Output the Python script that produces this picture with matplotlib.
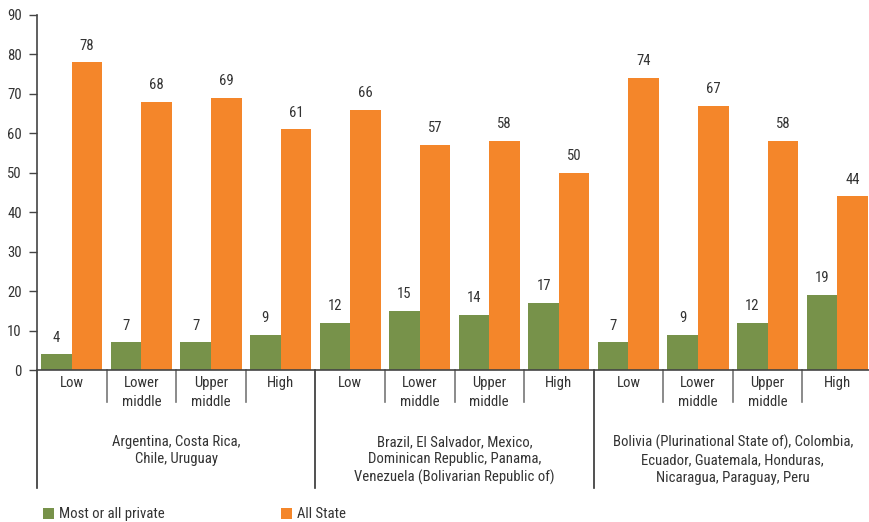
import matplotlib.pyplot as plt
from matplotlib.lines import Line2D
import numpy as np

# data
levels = ['Low', 'Lower\nmiddle', 'Upper\nmiddle', 'High']
groups = ['Argentina, Costa Rica,\nChile, Uruguay',
          'Brazil, El Salvador, Mexico,\nDominican Republic, Panama,\nVenezuela (Bolivarian Republic of)',
          'Bolivia (Plurinational State of), Colombia,\nEcuador, Guatemala, Honduras,\nNicaragua, Paraguay, Peru']
private = [4, 7, 7, 9, 12, 15, 14, 17, 7, 9, 12, 19]
state = [78, 68, 69, 61, 66, 57, 58, 50, 74, 67, 58, 44]

GREEN = '#77924a'
ORANGE = '#f4862a'
TXT = '#333333'
plt.rcParams['font.family'] = ['Roboto Condensed', 'DejaVu Sans']
plt.rcParams['font.size'] = 10.6

fig = plt.figure(figsize=(8.69, 5.22), dpi=100)
ax = fig.add_axes([37 / 869, 1 - 370 / 522, 835 / 869, 355 / 522])

x = np.arange(len(private))
w = 0.44
b1 = ax.bar(x - w / 2, private, w, color=GREEN, label='Most or all private')
b2 = ax.bar(x + w / 2, state, w, color=ORANGE, label='All State')
for bars, vals in ((b1, private), (b2, state)):
    for r, v in zip(bars, vals):
        ax.annotate(str(v), (r.get_x() + r.get_width() / 2, v), xytext=(0, 7),
                    textcoords='offset points', ha='center', va='bottom', color=TXT)

ax.set_xlim(-0.5, len(private) - 0.5)
ax.set_ylim(0, 90)
ax.set_yticks(range(0, 91, 10))
ax.set_xticks([])
ax.tick_params(axis='y', length=6, width=1, colors='#444444', labelcolor=TXT, pad=5)
for s in ('top', 'right'):
    ax.spines[s].set_visible(False)
for s in ('left', 'bottom'):
    ax.spines[s].set_color('#444444')
    ax.spines[s].set_linewidth(1.2)

# category labels under the axis, with short and long dividers
trans = ax.get_xaxis_transform()
short_y = -32 / 355
long_y = -118 / 355
for i in range(len(private)):
    ax.text(i, -6 / 355, levels[i % 4], transform=trans, ha='center', va='top',
            color=TXT, linespacing=1.45)
    if i % 4 == 0:
        ax.add_line(Line2D([i - 0.5, i - 0.5], [0, long_y], transform=trans,
                           color='#333333', lw=1.2, clip_on=False))
    else:
        ax.add_line(Line2D([i - 0.5, i - 0.5], [0, short_y], transform=trans,
                           color='#777777', lw=1.2, clip_on=False))
for g, name in enumerate(groups):
    ax.text(g * 4 + 1.5, -65 / 355, name, transform=trans, ha='center', va='top',
            color=TXT, linespacing=1.3)

ax.legend(loc='lower left', bbox_to_anchor=(0.0, -0.443), ncol=2, frameon=False,
          handlelength=0.75, handleheight=0.75, handletextpad=0.35, columnspacing=7.9,
          borderaxespad=0, labelcolor=TXT)

fig.savefig('out.png', dpi=100)
